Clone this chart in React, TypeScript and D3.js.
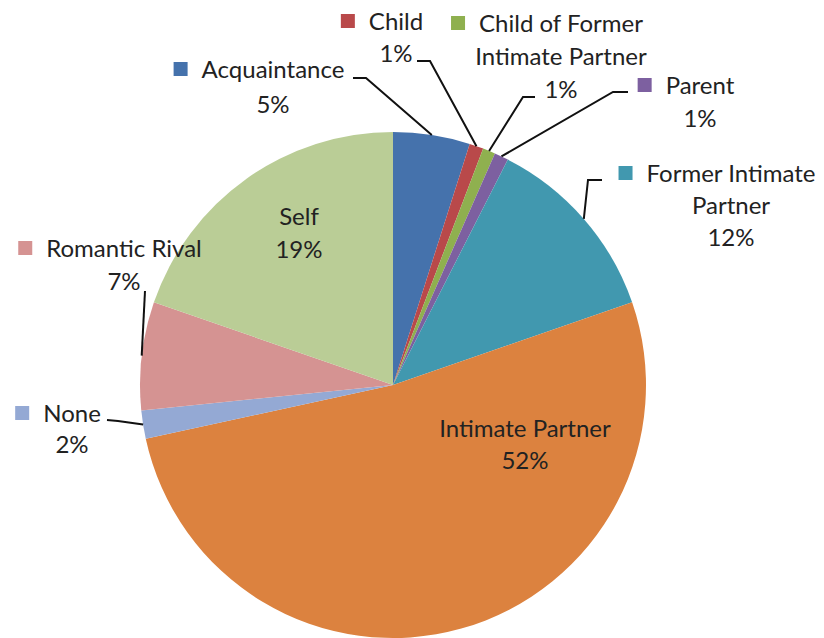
import React, { useEffect, useRef } from "react";
import * as d3 from "d3";

// data
const categories = [
  "Acquaintance",
  "Child",
  "Child of Former Intimate Partner",
  "Parent",
  "Former Intimate Partner",
  "Intimate Partner",
  "None",
  "Romantic Rival",
  "Self",
];
const values = [4.9, 0.9, 0.8, 0.9, 12.2, 51.9, 1.8, 6.9, 19.7];
const pctLabels = ["5%", "1%", "1%", "1%", "12%", "52%", "2%", "7%", "19%"];
const colors = [
  "#4572AC",
  "#B9494A",
  "#8FB04F",
  "#7D60A0",
  "#4198AF",
  "#DC823F",
  "#94A9D4",
  "#D59392",
  "#BACD96",
];

// label layout (positions only)
type Lbl = {
  x: number;
  y: number;
  lh: number;
  lines: string[];
  key: boolean;
  leader: [number, number][];
};
const LABELS: Lbl[] = [
  { x: 273, y: 78, lh: 35, lines: ["Acquaintance"], key: true, leader: [[353, 78], [366, 78]] },
  { x: 396, y: 30, lh: 32, lines: ["Child"], key: true, leader: [[417, 61], [430, 61]] },
  { x: 561, y: 32, lh: 33, lines: ["Child of Former", "Intimate Partner"], key: true, leader: [[535, 97], [523, 97]] },
  { x: 700, y: 94, lh: 33, lines: ["Parent"], key: true, leader: [[628, 92], [613, 92]] },
  { x: 731, y: 182, lh: 32, lines: ["Former Intimate", "Partner"], key: true, leader: [[602, 180], [588, 180]] },
  { x: 525, y: 437, lh: 32, lines: ["Intimate Partner"], key: false, leader: [] },
  { x: 72, y: 422, lh: 31, lines: ["None"], key: true, leader: [[107, 420], [118, 421]] },
  { x: 124, y: 257, lh: 33, lines: ["Romantic Rival"], key: true, leader: [[145, 291]] },
  { x: 299, y: 225, lh: 33, lines: ["Self"], key: false, leader: [] },
];

const W = 824;
const H = 638;
const CX = 393;
const CY = 385;
const R = 253;
const FONT = "Lato, 'Open Sans', sans-serif";
const FS = 24;

export default function App() {
  const svgRef = useRef<SVGSVGElement | null>(null);

  useEffect(() => {
    const svg = d3.select(svgRef.current);
    svg.selectAll("*").remove();

    const pie = d3
      .pie<number>()
      .sort(null)
      .value((d) => d);
    const arcs = pie(values);
    const arc = d3.arc<d3.PieArcDatum<number>>().innerRadius(0).outerRadius(R);

    const g = svg.append("g").attr("transform", `translate(${CX},${CY})`);
    g.selectAll("path.slice")
      .data(arcs)
      .join("path")
      .attr("class", "slice")
      .attr("d", arc)
      .attr("fill", (_, i) => colors[i]);

    // leader lines
    const line = d3.line();
    arcs.forEach((a, i) => {
      const lb = LABELS[i];
      if (!lb.leader.length) return;
      const mid = (a.startAngle + a.endAngle) / 2;
      const end: [number, number] = [
        CX + R * Math.sin(mid),
        CY - R * Math.cos(mid),
      ];
      svg
        .append("path")
        .attr("d", line([...lb.leader, end]))
        .attr("fill", "none")
        .attr("stroke", "#111")
        .attr("stroke-width", 2);
    });

    // labels
    LABELS.forEach((lb, i) => {
      const lines = [...lb.lines, pctLabels[i]];
      const t = svg
        .append("text")
        .attr("font-family", FONT)
        .attr("font-size", FS)
        .attr("fill", "#222")
        .attr("text-anchor", "middle");
      lines.forEach((s, k) => {
        t.append("tspan")
          .attr("x", lb.x)
          .attr("y", lb.y + k * lb.lh)
          .text(s);
      });
      if (lb.key) {
        const first = t.select<SVGTSpanElement>("tspan").node();
        const w = first ? first.getComputedTextLength() : 0;
        svg
          .append("rect")
          .attr("x", lb.x - w / 2 - 28)
          .attr("y", lb.y - 16)
          .attr("width", 14)
          .attr("height", 14)
          .attr("fill", colors[i]);
      }
    });
  }, []);

  return (
    <svg
      ref={svgRef}
      width={W}
      height={H}
      style={{ position: "absolute", left: 0, top: 0, background: "#fff" }}
    />
  );
}
